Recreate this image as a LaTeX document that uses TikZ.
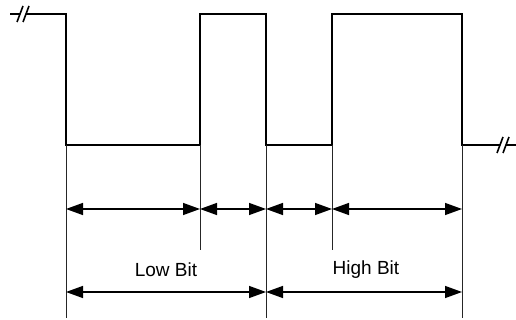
\documentclass[tikz,border=0pt]{standalone}
\usepackage{fontspec}
\setmainfont{Liberation Sans}
\usetikzlibrary{arrows.meta}
\begin{document}
\begin{tikzpicture}[x=1pt,y=-1pt,
  wave/.style={line width=2pt, line join=miter},
  brk/.style={line width=1.6pt},
  ext/.style={line width=1pt, draw=black!85},
  dim/.style={line width=1.4pt, {Triangle[length=17pt,width=12pt]}-{Triangle[length=17pt,width=12pt]}},
  lbl/.style={font=\fontsize{19}{22}\selectfont, inner sep=0pt}]
\useasboundingbox (0,0) rectangle (516,320);
% waveform corners
\coordinate (s0) at (10,14);
\coordinate (s1) at (19.5,14);
\coordinate (s2) at (25.5,14);
\coordinate (a1) at (66,14);
\coordinate (a2) at (66,145);
\coordinate (b1) at (200,145);
\coordinate (b2) at (200,14);
\coordinate (c1) at (266,14);
\coordinate (c2) at (266,145);
\coordinate (d1) at (332,145);
\coordinate (d2) at (332,14);
\coordinate (e1) at (462,14);
\coordinate (e2) at (462,145);
\coordinate (f1) at (500,145);
\coordinate (f2) at (506,145);
\coordinate (f3) at (516,145);
% rows
\coordinate (r1) at (0,209);
\coordinate (r2) at (0,292);
\coordinate (lo) at (0,318);
\coordinate (mid) at (0,250);
% waveform
\draw[wave] (s0) -- (s1);
\draw[wave] (s2) -- (a1) -- (a2) -- (b1) -- (b2) -- (c1) -- (c2) -- (d1) -- (d2) -- (e1) -- (e2) -- (f1);
\draw[wave] (f2) -- (f3);
% break marks
\draw[brk] (17,22) -- (23,6);
\draw[brk] (23,22) -- (29,6);
\draw[brk] (497,153) -- (503,137);
\draw[brk] (503,153) -- (509,137);
% extension lines
\draw[ext] (a2) -- (a2 |- lo);
\draw[ext] (b1) -- (b1 |- mid);
\draw[ext] (c2) -- (c2 |- lo);
\draw[ext] (d1) -- (d1 |- mid);
\draw[ext] (e2) -- (e2 |- lo);
% dimension arrows
\draw[dim] (a2 |- r1) -- (b1 |- r1);
\draw[dim] (b1 |- r1) -- (c2 |- r1);
\draw[dim] (c2 |- r1) -- (d1 |- r1);
\draw[dim] (d1 |- r1) -- (e2 |- r1);
\draw[dim] (a2 |- r2) -- (c2 |- r2);
\draw[dim] (c2 |- r2) -- (e2 |- r2);
% labels
\node[lbl] (low) at (166,270) {Low Bit};
\node[lbl] (high) at (366,270) {High Bit};
\end{tikzpicture}
\end{document}
